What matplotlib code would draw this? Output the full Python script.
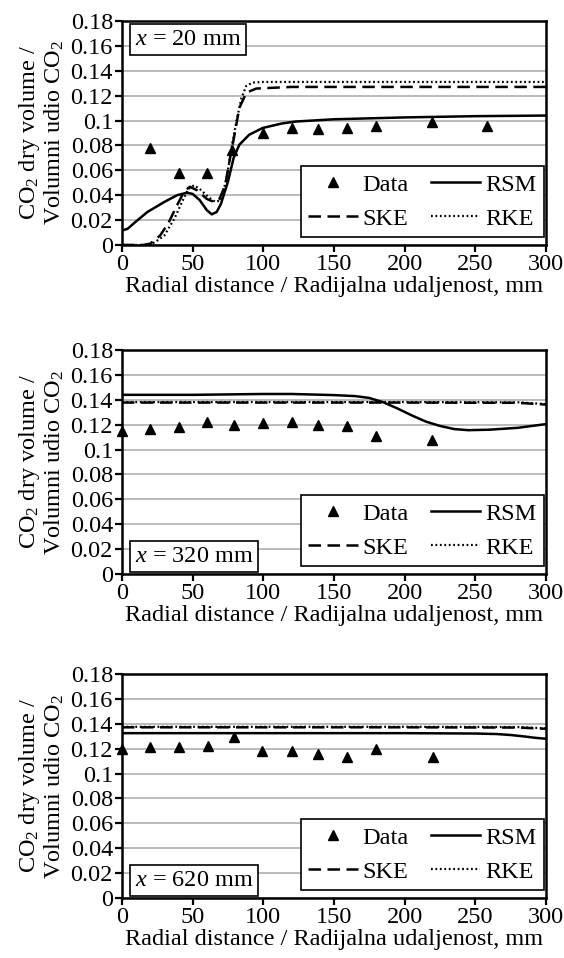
import matplotlib
matplotlib.use("Agg")
import matplotlib.pyplot as plt

plt.rcParams["font.family"] = ["Liberation Serif", "DejaVu Serif"]
plt.rcParams["mathtext.fontset"] = "custom"
plt.rcParams["mathtext.rm"] = "Liberation Serif"
plt.rcParams["mathtext.it"] = "Liberation Serif:italic"

# measured CO2 (triangles)
data_x_20 = [20, 40, 60, 78, 100, 120, 139, 159, 180, 219, 258]
data_y_20 = [0.078, 0.058, 0.058, 0.076, 0.090, 0.094, 0.093, 0.094, 0.096, 0.099, 0.096]
data_x_320 = [0, 20, 40, 60, 79, 100, 120, 139, 159, 180, 219]
data_y_320 = [0.115, 0.1162, 0.118, 0.122, 0.1197, 0.121, 0.122, 0.120, 0.1186, 0.111, 0.108]
data_x_620 = [0, 20, 40, 61, 79, 99, 120, 139, 159, 180, 220]
data_y_620 = [0.120, 0.121, 0.121, 0.122, 0.1295, 0.118, 0.118, 0.1155, 0.113, 0.1196, 0.1134]

# x = 20 mm model profiles
rsm_x_20 = [0, 4, 9, 18, 30, 39, 46, 50, 55, 60, 63.5, 67, 70, 75, 79, 83, 90, 99.5, 113, 123, 150, 200, 250, 300]
rsm_y_20 = [0.0116, 0.013, 0.018, 0.0265, 0.0346, 0.040, 0.042, 0.041, 0.036, 0.028, 0.0246, 0.0265, 0.033,
            0.051, 0.070, 0.0805, 0.0886, 0.094, 0.0976, 0.0992, 0.101, 0.1025, 0.1035, 0.104]
ske_x_20 = [0, 15, 20, 27, 33, 39, 44, 48, 53, 60, 65, 69, 73, 76, 80, 83, 88, 95, 120, 300]
ske_y_20 = [0.0, 0.0, 0.001, 0.0076, 0.018, 0.032, 0.043, 0.0468, 0.044, 0.037, 0.0346, 0.037, 0.048,
            0.067, 0.091, 0.110, 0.1224, 0.1257, 0.127, 0.127]
rke_x_20 = [0, 18, 23, 30, 37, 42.5, 47, 51, 55, 61, 66, 70, 74, 77.5, 81, 84.5, 88, 92.5, 100, 300]
rke_y_20 = [0.0, 0.0, 0.002, 0.0076, 0.021, 0.0346, 0.045, 0.048, 0.045, 0.0386, 0.0346, 0.036, 0.0535,
            0.078, 0.0995, 0.118, 0.128, 0.1305, 0.131, 0.131]

# x = 320 mm model profiles
rsm_x_320 = [0, 50, 100, 120, 150, 165, 175, 185, 195, 205, 215, 225, 235, 245, 260, 280, 300]
rsm_y_320 = [0.144, 0.144, 0.1447, 0.1447, 0.1438, 0.143, 0.1415, 0.138, 0.133, 0.1275, 0.1225, 0.119,
             0.1165, 0.1156, 0.116, 0.1175, 0.1205]
ske_x_320 = [0, 100, 200, 280, 300]
ske_y_320 = [0.1378, 0.1378, 0.1378, 0.1376, 0.1362]
rke_x_320 = [0, 100, 200, 280, 300]
rke_y_320 = [0.1382, 0.1382, 0.1382, 0.138, 0.1366]

# x = 620 mm model profiles
rsm_x_620 = [0, 100, 200, 250, 265, 275, 285, 292, 300]
rsm_y_620 = [0.1325, 0.1325, 0.1325, 0.1322, 0.1318, 0.131, 0.1298, 0.1288, 0.128]
ske_x_620 = [0, 100, 200, 280, 300]
ske_y_620 = [0.1372, 0.1372, 0.1372, 0.137, 0.136]
rke_x_620 = [0, 100, 200, 280, 300]
rke_y_620 = [0.1376, 0.1376, 0.1376, 0.1374, 0.1364]

y_ticks = [0, 0.02, 0.04, 0.06, 0.08, 0.1, 0.12, 0.14, 0.16, 0.18]
x_ticks = [0, 50, 100, 150, 200, 250, 300]

panels = [
    ("20", data_x_20, data_y_20, rsm_x_20, rsm_y_20, ske_x_20, ske_y_20, rke_x_20, rke_y_20, "top"),
    ("320", data_x_320, data_y_320, rsm_x_320, rsm_y_320, ske_x_320, ske_y_320, rke_x_320, rke_y_320, "bottom"),
    ("620", data_x_620, data_y_620, rsm_x_620, rsm_y_620, ske_x_620, ske_y_620, rke_x_620, rke_y_620, "bottom"),
]
bottoms = [0.7443, 0.4008, 0.0626]

FS = 17.5
fig = plt.figure(figsize=(5.64, 9.58), dpi=100)

for (pos, dx, dy, rx, ry, sx, sy, kx, ky, tag_at), b in zip(panels, bottoms):
    ax = fig.add_axes([0.2163, b, 0.7518, 0.2338])
    ax.set_xlim(0, 300)
    ax.set_ylim(0, 0.18)
    ax.set_yticks(y_ticks)
    ax.set_yticklabels([f"{v:g}" for v in y_ticks])
    ax.set_xticks(x_ticks)
    ax.set_xticklabels([str(v) for v in x_ticks])
    ax.yaxis.grid(True, color="#a8a8a8", linewidth=1.1)
    ax.set_axisbelow(True)
    for s in ax.spines.values():
        s.set_linewidth(1.8)
    ax.tick_params(direction="out", length=5, width=1.6, labelsize=FS, pad=1.5)

    ax.plot(dx, dy, linestyle="none", marker="^", color="black", markersize=7.5, label="Data", clip_on=False, zorder=4)
    ax.plot(sx, sy, color="black", linewidth=1.8, dashes=(5, 2.6), label="SKE")
    ax.plot(rx, ry, color="black", linewidth=1.8, label="RSM")
    ax.plot(kx, ky, color="black", linewidth=1.6, dashes=(0.8, 1.2), label="RKE")

    leg = ax.legend(ncol=2, loc="lower right", bbox_to_anchor=(0.995, 0.035), borderaxespad=0,
                    fontsize=FS, frameon=True, fancybox=False, handlelength=2.05, handletextpad=0.2,
                    columnspacing=0.9, labelspacing=0.5, borderpad=0.3)
    leg.get_frame().set_edgecolor("black")
    leg.get_frame().set_linewidth(1.2)
    leg.get_frame().set_alpha(1)
    leg.set_zorder(5)

    ty = 0.965 if tag_at == "top" else 0.03
    va = "top" if tag_at == "top" else "bottom"
    ax.text(0.03, ty, rf"$x$ = {pos} mm", transform=ax.transAxes, fontsize=FS, ha="left", va=va,
            bbox=dict(boxstyle="square,pad=0.2", facecolor="white", edgecolor="black", linewidth=1.2), zorder=6)

    ax.set_xlabel("Radial distance / Radijalna udaljenost, mm", fontsize=FS, labelpad=1)
    ax.set_ylabel("CO$_2$ dry volume /\nVolumni udio CO$_2$", fontsize=FS, labelpad=3, linespacing=1.05)

fig.savefig("out.png", dpi=100)
